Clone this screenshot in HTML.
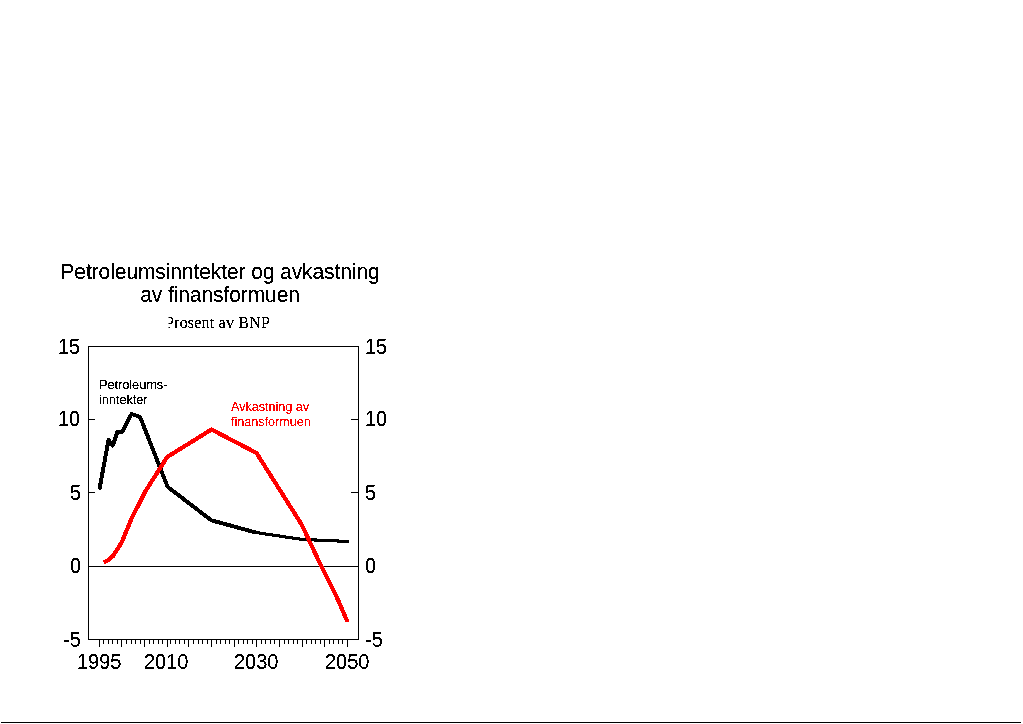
<!DOCTYPE html>
<html lang="no">
<head>
<meta charset="utf-8">
<title>Petroleumsinntekter og avkastning av finansformuen</title>
<style>
html,body{margin:0;padding:0;background:#fff;}
body{width:1023px;height:724px;position:relative;overflow:hidden;font-family:"Liberation Sans",Arial,sans-serif;color:#000;}
.t{position:absolute;white-space:nowrap;line-height:1;filter:url(#thr2);}
.title{font-size:21px;letter-spacing:-0.09px;transform:scaleY(1.06);transform-origin:0 17.8px;left:0;width:440px;text-align:center;}
.ax{font-size:20px;transform:scaleY(1.06);}
.sub{font-family:"Liberation Serif","Times New Roman",serif;font-size:16px;letter-spacing:0.2px;}
.lab{font-size:12.6px;filter:url(#thr2);}
svg{position:absolute;left:0;top:0;}
</style>
</head>
<body>
<svg width="0" height="0" style="position:absolute"><defs><filter id="thr2" x="0" y="0" width="100%" height="100%" color-interpolation-filters="sRGB"><feComponentTransfer><feFuncA type="discrete" tableValues="0 0 1 1 1"/></feComponentTransfer></filter></defs></svg>
<div class="t title" id="t1" style="top:261px;">Petroleumsinntekter og avkastning</div>
<div class="t title" id="t2" style="top:284px;">av finansformuen</div>
<div class="t sub" id="sub" style="left:165px;top:315px;clip-path:inset(0 0 0 3.5px);">Prosent av BNP</div>

<svg width="1023" height="724" viewBox="0 0 1023 724">
  <g shape-rendering="crispEdges" fill="none" stroke="#000" stroke-width="1">
    <rect x="88.5" y="346.5" width="270" height="293"/>
    <line x1="88" y1="566.5" x2="359" y2="566.5"/>
    <g id="ticks">
      <line x1="99.5" y1="639" x2="99.5" y2="647"/>
      <line x1="103.5" y1="639" x2="103.5" y2="644"/>
      <line x1="108.5" y1="639" x2="108.5" y2="644"/>
      <line x1="112.5" y1="639" x2="112.5" y2="644"/>
      <line x1="117.5" y1="639" x2="117.5" y2="644"/>
      <line x1="121.5" y1="639" x2="121.5" y2="647"/>
      <line x1="126.5" y1="639" x2="126.5" y2="644"/>
      <line x1="131.5" y1="639" x2="131.5" y2="644"/>
      <line x1="135.5" y1="639" x2="135.5" y2="644"/>
      <line x1="140.5" y1="639" x2="140.5" y2="644"/>
      <line x1="144.5" y1="639" x2="144.5" y2="647"/>
      <line x1="149.5" y1="639" x2="149.5" y2="644"/>
      <line x1="153.5" y1="639" x2="153.5" y2="644"/>
      <line x1="158.5" y1="639" x2="158.5" y2="644"/>
      <line x1="162.5" y1="639" x2="162.5" y2="644"/>
      <line x1="167.5" y1="639" x2="167.5" y2="647"/>
      <line x1="170.5" y1="639" x2="170.5" y2="644"/>
      <line x1="175.5" y1="639" x2="175.5" y2="644"/>
      <line x1="179.5" y1="639" x2="179.5" y2="644"/>
      <line x1="184.5" y1="639" x2="184.5" y2="644"/>
      <line x1="188.5" y1="639" x2="188.5" y2="647"/>
      <line x1="193.5" y1="639" x2="193.5" y2="644"/>
      <line x1="198.5" y1="639" x2="198.5" y2="644"/>
      <line x1="202.5" y1="639" x2="202.5" y2="644"/>
      <line x1="207.5" y1="639" x2="207.5" y2="644"/>
      <line x1="211.5" y1="639" x2="211.5" y2="647"/>
      <line x1="216.5" y1="639" x2="216.5" y2="644"/>
      <line x1="220.5" y1="639" x2="220.5" y2="644"/>
      <line x1="225.5" y1="639" x2="225.5" y2="644"/>
      <line x1="229.5" y1="639" x2="229.5" y2="644"/>
      <line x1="234.5" y1="639" x2="234.5" y2="647"/>
      <line x1="238.5" y1="639" x2="238.5" y2="644"/>
      <line x1="243.5" y1="639" x2="243.5" y2="644"/>
      <line x1="247.5" y1="639" x2="247.5" y2="644"/>
      <line x1="252.5" y1="639" x2="252.5" y2="644"/>
      <line x1="256.5" y1="639" x2="256.5" y2="647"/>
      <line x1="261.5" y1="639" x2="261.5" y2="644"/>
      <line x1="265.5" y1="639" x2="265.5" y2="644"/>
      <line x1="270.5" y1="639" x2="270.5" y2="644"/>
      <line x1="274.5" y1="639" x2="274.5" y2="644"/>
      <line x1="279.5" y1="639" x2="279.5" y2="647"/>
      <line x1="284.5" y1="639" x2="284.5" y2="644"/>
      <line x1="288.5" y1="639" x2="288.5" y2="644"/>
      <line x1="293.5" y1="639" x2="293.5" y2="644"/>
      <line x1="297.5" y1="639" x2="297.5" y2="644"/>
      <line x1="302.5" y1="639" x2="302.5" y2="647"/>
      <line x1="306.5" y1="639" x2="306.5" y2="644"/>
      <line x1="311.5" y1="639" x2="311.5" y2="644"/>
      <line x1="315.5" y1="639" x2="315.5" y2="644"/>
      <line x1="320.5" y1="639" x2="320.5" y2="644"/>
      <line x1="324.5" y1="639" x2="324.5" y2="647"/>
      <line x1="329.5" y1="639" x2="329.5" y2="644"/>
      <line x1="333.5" y1="639" x2="333.5" y2="644"/>
      <line x1="338.5" y1="639" x2="338.5" y2="644"/>
      <line x1="342.5" y1="639" x2="342.5" y2="644"/>
      <line x1="347.5" y1="639" x2="347.5" y2="647"/>
      <line x1="88" y1="419.5" x2="95" y2="419.5"/>
      <line x1="351" y1="419.5" x2="359" y2="419.5"/>
      <line x1="88" y1="492.5" x2="95" y2="492.5"/>
      <line x1="351" y1="492.5" x2="359" y2="492.5"/>
    </g>
  </g>
  <g fill="none" stroke-linejoin="round" shape-rendering="crispEdges">
    <polyline id="blk" stroke="#000" stroke-width="4" points="99.4,489.5 104,464.5 108.5,440 112.8,445.5 117.3,432 122.5,431.5 127,422.7 131.5,414 136,415.5 140.3,417.5 167.6,486.8 211.3,520.3 256.5,532.7"/>
    <polyline id="blk2" stroke="#000" stroke-width="3.1" points="255,532.4 302,539.4 349,541.5"/>
    <polyline id="red" stroke="#f00" stroke-width="4.2" points="103.8,562.5 108.3,560 112.8,556.3 117.3,549.5 121.8,542 131.4,519 145.2,491.5 167.2,457 211.5,429.5 256.5,453 301.6,524.5 321.2,566 336.5,596.5 347.6,622"/>
  </g>
</svg>

<div class="t ax" id="l15" style="left:58px;top:337px;">15</div>
<div class="t ax" id="l10" style="left:58px;top:409px;">10</div>
<div class="t ax" id="l5" style="left:70px;top:483px;">5</div>
<div class="t ax" id="l0" style="left:70px;top:556px;">0</div>
<div class="t ax" id="lm5" style="left:63px;top:630px;">-5</div>
<div class="t ax" id="r15" style="left:365px;top:337px;">15</div>
<div class="t ax" id="r10" style="left:365px;top:409px;">10</div>
<div class="t ax" id="r5" style="left:365px;top:483px;">5</div>
<div class="t ax" id="r0" style="left:365px;top:556px;">0</div>
<div class="t ax" id="rm5" style="left:365px;top:630px;">-5</div>

<div class="t ax" id="x1995" style="left:77px;top:652px;">1995</div>
<div class="t ax" id="x2010" style="left:144px;top:652px;">2010</div>
<div class="t ax" id="x2030" style="left:234px;top:652px;">2030</div>
<div class="t ax" id="x2050" style="left:325px;top:652px;">2050</div>

<div class="t lab" id="pb" style="left:99px;top:377px;line-height:15px;font-size:12.85px;letter-spacing:-0.08px;">Petroleums-<br>inntekter</div>
<div class="t lab" id="rl" style="left:231px;top:400px;line-height:15px;color:#f00;">Avkastning av<br>finansformuen</div>

<div style="position:absolute;left:1px;top:722px;width:1020px;height:1px;background:#000;"></div>
</body>
</html>
